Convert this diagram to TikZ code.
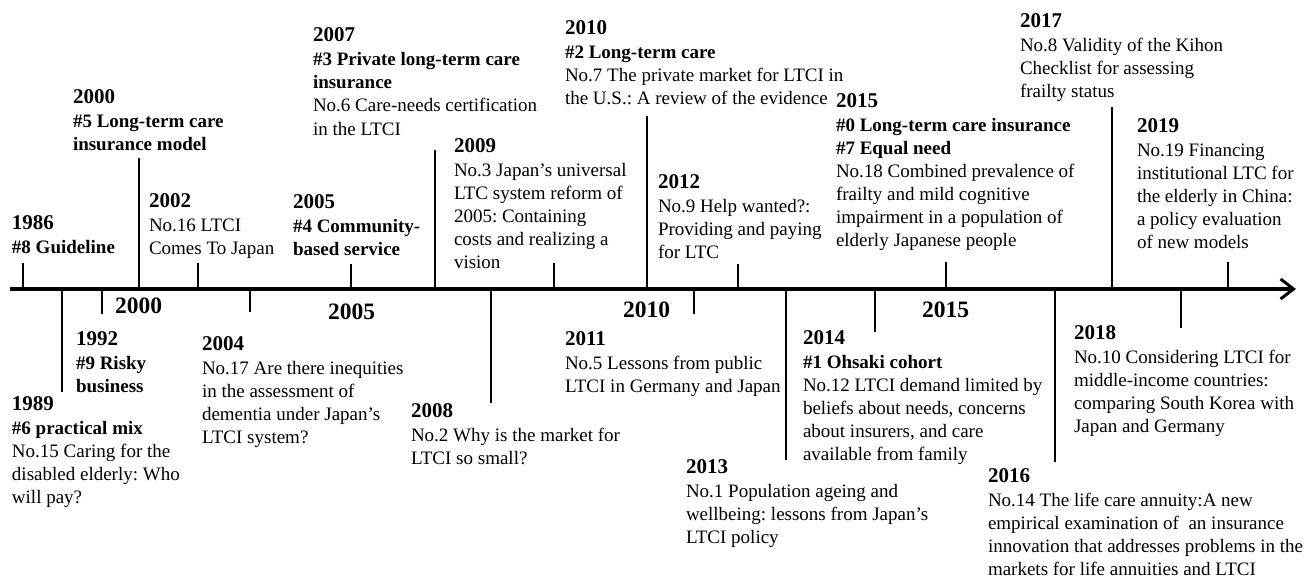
\documentclass[tikz,border=0pt]{standalone}
\usepackage{fontspec}
\setmainfont{Liberation Serif}
\usetikzlibrary{arrows.meta}
\frenchspacing
\newcommand\evt[2]{\begin{tabular}[t]{@{}l@{}}{\fontsize{21}{23}\selectfont\bfseries #1}\\[1pt] #2\end{tabular}}
\begin{document}
\begin{tikzpicture}[x=1pt,y=-1pt,
  ev/.style={anchor=base west,inner sep=0pt,outer sep=0pt,font=\fontsize{19}{23}\selectfont},
  axlabel/.style={anchor=base west,inner sep=0pt,font=\fontsize{23.5}{26}\selectfont\bfseries},
  tickline/.style={line width=2.6pt},
  axisline/.style={line width=3.4pt,-{Straight Barb[length=13pt,width=20pt,line width=3pt]}}]
\useasboundingbox (0,0) rectangle (1304,578);
% axis
\coordinate (axstart) at (10,289);
\coordinate (axend) at (1296,289);
\draw[axisline] (axstart) -- (axend);
% ticks
\foreach \n/\x/\y in {1986/23/263, 2000/139/158, 2002/198/263, 2005/351/264, 2007/435/150, 2009/554/263, 2010/647/116, 2012/738/264, 2015/946/262, 2017/1112/107, 2019/1228/262, 1989/62/392, L2000/102/314, 2004/250/312, 2008/491/403, 2011/694/314, 2013/786/460, 2014/875/332, 2016/1055/462, 2018/1181/328}{
  \coordinate (a\n) at (\x,289);
  \coordinate (e\n) at (\x,\y);
  \draw[tickline] (a\n) -- (e\n);
}
% axis labels
\node[axlabel] (l2000) at (115,313) {2000};
\node[axlabel] (l2005) at (328,319) {2005};
\node[axlabel] (l2010) at (623,317) {2010};
\node[axlabel] (l2015) at (922,317) {2015};
% events above
\node[ev] (n1986) at (12,229) {\evt{1986}{\textbf{\#8 Guideline}}};
\node[ev] (n2000) at (73,103) {\evt{2000}{\textbf{\#5 Long-term care}\\\textbf{insurance model}}};
\node[ev] (n2002) at (149,207) {\evt{2002}{No.16 LTCI\\Comes To Japan}};
\node[ev] (n2005) at (293,208) {\evt{2005}{\textbf{\#4 Community-}\\\textbf{based service}}};
\node[ev] (n2007) at (313,42) {\evt{2007}{\textbf{\#3 Private long-term care}\\\textbf{insurance}\\No.6 Care-needs certification\\in the LTCI}};
\node[ev] (n2009) at (454,152) {\evt{2009}{No.3 Japan’s universal\\LTC system reform of\\2005: Containing\\costs and realizing a\\vision}};
\node[ev] (n2010) at (565,35) {\evt{2010}{\textbf{\#2 Long-term care}\\No.7 The private market for LTCI in\\the U.S.: A review of the evidence}};
\node[ev] (n2012) at (658,188) {\evt{2012}{No.9 Help wanted?:\\Providing and paying\\for LTC}};
\node[ev] (n2015) at (836,107) {\evt{2015}{\textbf{\#0 Long-term care insurance}\\\textbf{\#7 Equal need}\\No.18 Combined prevalence of\\frailty and mild cognitive\\impairment in a population of\\elderly Japanese people}};
\node[ev] (n2017) at (1020,28) {\evt{2017}{No.8 Validity of the Kihon\\Checklist for assessing\\frailty status}};
\node[ev] (n2019) at (1137,132) {\evt{2019}{No.19 Financing\\institutional LTC for\\the elderly in China:\\a policy evaluation\\of new models}};
% events below
\node[ev] (n1989) at (12,410) {\evt{1989}{\textbf{\#6 practical mix}\\No.15 Caring for the\\disabled elderly: Who\\will pay?}};
\node[ev] (n1992) at (76,345) {\evt{1992}{\textbf{\#9 Risky}\\\textbf{business}}};
\node[ev] (n2004) at (202,350) {\evt{2004}{No.17 Are there inequities\\in the assessment of\\dementia under Japan’s\\LTCI system?}};
\node[ev] (n2008) at (411,417) {\evt{2008}{No.2 Why is the market for\\LTCI so small?}};
\node[ev] (n2011) at (565,345) {\evt{2011}{No.5 Lessons from public\\LTCI in Germany and Japan}};
\node[ev] (n2013) at (686,473) {\evt{2013}{No.1 Population ageing and\\wellbeing: lessons from Japan’s\\LTCI policy}};
\node[ev] (n2014) at (803,344) {\evt{2014}{\textbf{\#1 Ohsaki cohort}\\No.12 LTCI demand limited by\\beliefs about needs, concerns\\about insurers, and care\\available from family}};
\node[ev] (n2016) at (988,482) {\evt{2016}{No.14 The life care annuity:A new\\empirical examination of~ an insurance\\innovation that addresses problems in the\\markets for life annuities and LTCI}};
\node[ev] (n2018) at (1074,339) {\evt{2018}{No.10 Considering LTCI for\\middle-income countries:\\comparing South Korea with\\Japan and Germany}};
\end{tikzpicture}
\end{document}
